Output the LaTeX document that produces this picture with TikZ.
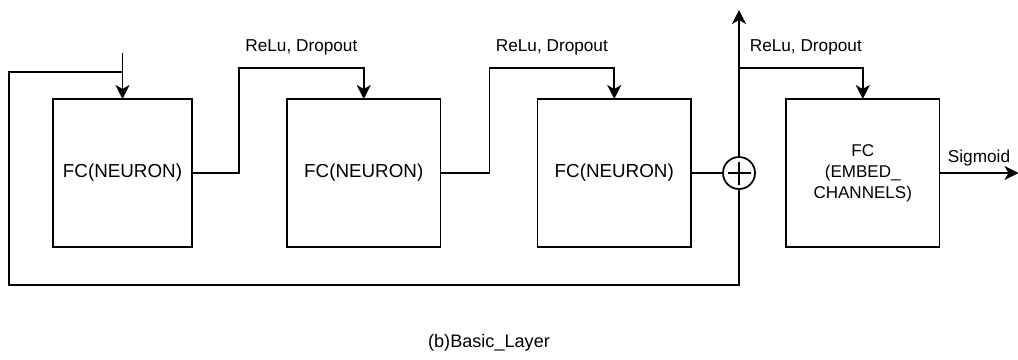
\documentclass[tikz,border=0pt]{standalone}
\usepackage{fontspec}
\setmainfont{Liberation Sans}
\usepackage{tikz}
\usetikzlibrary{arrows.meta, positioning}

\begin{document}
\begin{tikzpicture}[
    line width=1pt,
    fcbox/.style={rectangle, draw, align=center, inner sep=0pt, outer sep=0pt,
                minimum width=3.07cm, minimum height=2.96cm,
                font=\fontsize{10.7}{12.8}\selectfont},
    addnode/.style={circle, draw, minimum size=0.64cm, inner sep=0pt, outer sep=0pt,
                path picture={\draw[line width=0.8pt]
                    ([xshift=-0.23cm]path picture bounding box.center) -- ++(0.46,0)
                    ([yshift=-0.23cm]path picture bounding box.center) -- ++(0,0.46);}},
    lbl/.style={font=\fontsize{9.8}{11.8}\selectfont},
    arrow/.style={-{Stealth[length=0.28cm, width=0.28cm, inset=0.08cm]}}
]
\useasboundingbox (0,0) rectangle (20.36,-7.18);

% === BLOCKS ===
\node[fcbox, minimum width=2.78cm] (fc1) at (2.45,-3.46) {FC(NEURON)};
\node[fcbox, right=1.9cm of fc1] (fc2) {FC(NEURON)};
\node[fcbox, right=1.94cm of fc2] (fc3) {FC(NEURON)};
\node[addnode, right=0.64cm of fc3] (sum) {};
\node[fcbox, right=0.62cm of sum, font=\fontsize{9.7}{12}\selectfont] (fc4)
    {FC\\(EMBED\_\\CHANNELS)};

% === IN / OUT / LOOP ===
\coordinate (in) at ([yshift=0.92cm]fc1.north);
\coordinate (out) at ([yshift=2.94cm]sum.north);
\coordinate (loop) at (0.18,-5.70);

% === ARROWS ===
\draw[arrow] (in) -- (fc1.north);
\draw (sum.south) |- (loop) |- ([yshift=0.54cm]fc1.north);
\draw[arrow] (fc1.east) -- ++(0.94,0) |- ([yshift=0.62cm]fc2.north)
    node[lbl, above=0.12cm, pos=0.75] {ReLu, Dropout} -- (fc2.north);
\draw[arrow] (fc2.east) -- ++(0.98,0) |- ([yshift=0.62cm]fc3.north)
    node[lbl, above=0.12cm, pos=0.75] {ReLu, Dropout} -- (fc3.north);
\draw (fc3.east) -- (sum.west);
\draw[arrow] (sum.north) -- (out);
\draw[arrow] (sum) ++(0,2.1) -| (fc4.north)
    node[lbl, above=0.12cm, pos=0.27] {ReLu, Dropout};
\draw[arrow] (fc4.east) -- ++(1.58,0) node[lbl, above, midway] {Sigmoid};

% === CAPTION ===
\node[font=\fontsize{10.3}{12.4}\selectfont] (cap) at (9.78,-6.86) {(b)Basic\_Layer};

\end{tikzpicture}
\end{document}
